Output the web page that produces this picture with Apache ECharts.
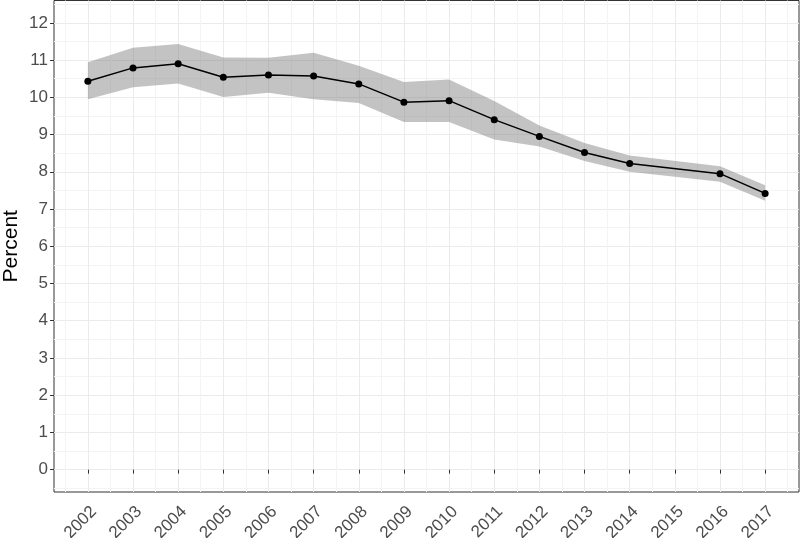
<!DOCTYPE html>
<html><head><meta charset="utf-8">
<script src="https://cdn.jsdelivr.net/npm/echarts@6/dist/echarts.min.js"></script>
<style>html,body{margin:0;padding:0;background:#fff}#c{width:800px;height:538px}</style>
</head><body><div id="c"></div>
<script>
const years   = [2002,2003,2004,2005,2006,2007,2008,2009,2010,2011,2012,2013,2014,2016,2017];
const percent = [10.43,10.79,10.90,10.54,10.60,10.57,10.36,9.87,9.91,9.40,8.95,8.52,8.22,7.95,7.42];
const lower   = [9.95,10.27,10.37,10.01,10.12,9.95,9.85,9.34,9.34,8.87,8.68,8.29,8.00,7.73,7.22];
const upper   = [10.94,11.33,11.43,11.07,11.06,11.20,10.85,10.41,10.48,9.90,9.24,8.77,8.44,8.15,7.64];
const xTicks  = [2002,2003,2004,2005,2006,2007,2008,2009,2010,2011,2012,2013,2014,2015,2016,2017];
const yTicks  = [0,1,2,3,4,5,6,7,8,9,10,11,12];

const FONT = 'Liberation Sans, Arial, Helvetica, sans-serif';
const MAJ = '#EBEBEB', MIN = '#F4F4F4', T = 'rgba(0,0,0,0)';
const XMIN = 2001.25, XMAX = 2017.75, YMIN = -0.6, YMAX = 12.6;

const chart = echarts.init(document.getElementById('c'), null, {renderer: 'canvas'});
chart.setOption({
  animation: false,
  backgroundColor: '#fff',
  textStyle: {fontFamily: FONT},
  grid: {left: 54, right: 1, top: 0.5, bottom: 46, outerBoundsMode: 'none', containLabel: false,
         show: true, borderColor: '#333', borderWidth: 1, backgroundColor: 'transparent'},
  xAxis: [
    { type: 'value', min: XMIN, max: XMAX, interval: 0.25,
      axisLine: {show: false},
      axisTick: {show: true, customValues: xTicks, length: 4, lineStyle: {color: '#333', width: 1}},
      axisLabel: {show: true, customValues: xTicks, rotate: 45, fontSize: 17, color: '#4D4D4D', margin: 11, fontFamily: FONT,
                  align: 'right', verticalAlign: 'top',
                  formatter: v => Number.isInteger(v) ? String(v) : ''},
      splitLine: {show: false} },
    { type: 'value', min: XMIN, max: XMAX, interval: 0.25,
      axisLine: {show: false}, axisTick: {show: false}, axisLabel: {show: false},
      splitLine: {show: true, lineStyle: {color: [T, MIN, T, MAJ], width: 1}} }
  ],
  yAxis: [
    { type: 'value', min: YMIN, max: YMAX, interval: 0.1,
      axisLine: {show: false},
      axisTick: {show: true, customValues: yTicks, length: 4, lineStyle: {color: '#333', width: 1}},
      axisLabel: {show: true, customValues: yTicks, fontSize: 17, color: '#4D4D4D', margin: 6, fontFamily: FONT,
                  formatter: v => Number.isInteger(v) ? String(v) : ''},
      splitLine: {show: false},
      name: 'Percent', nameLocation: 'middle', nameRotate: 90, nameGap: 32, nameMoveOverlap: false,
      nameTextStyle: {fontSize: 21, color: '#000', fontFamily: FONT} },
    { type: 'value', min: YMIN, max: YMAX, interval: 0.1,
      axisLine: {show: false}, axisTick: {show: false}, axisLabel: {show: false},
      splitLine: {show: true, lineStyle: {color: [T, MIN, T, T, T, T, MAJ, T, T, T], width: 1}} }
  ],
  series: [
    { type: 'custom', name: 'ci', xAxisIndex: 0, yAxisIndex: 0, silent: true, z: 1,
      data: years.map((y, i) => [y, lower[i], upper[i]]),
      encode: {x: 0, y: [1, 2]},
      renderItem: function (params, api) {
        if (params.dataIndex !== 0) return null;
        const pts = [];
        for (let i = 0; i < years.length; i++) pts.push(api.coord([years[i], upper[i]]));
        for (let i = years.length - 1; i >= 0; i--) pts.push(api.coord([years[i], lower[i]]));
        return {type: 'polygon', shape: {points: pts}, style: {fill: 'rgba(128,128,128,0.47)'}};
      } },
    { type: 'line', name: 'Percent', xAxisIndex: 0, yAxisIndex: 0, symbol: 'circle', symbolSize: 7,
      lineStyle: {color: '#000', width: 1.5}, itemStyle: {color: '#000'},
      data: years.map((y, i) => [y, percent[i]]), z: 3 }
  ]
});
</script></body></html>
